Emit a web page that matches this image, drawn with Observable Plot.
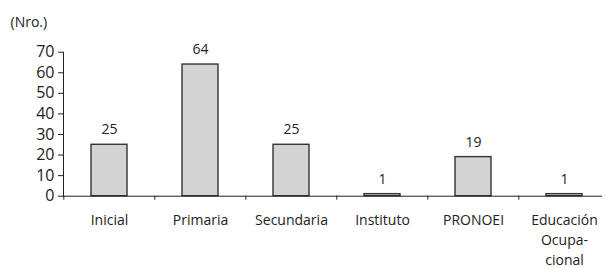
<!DOCTYPE html>
<html>
<head>
<meta charset="utf-8">
<script src="https://cdn.jsdelivr.net/npm/d3@7"></script>
<script src="https://cdn.jsdelivr.net/npm/@observablehq/plot@0.6"></script>
<style>
  html, body { margin: 0; padding: 0; background: #fff; }
</style>
</head>
<body>
<div id="chart"></div>
<script>
const categories = ["Inicial", "Primaria", "Secundaria", "Instituto", "PRONOEI", "Educación\nOcupa-\ncional"];
const values = [25, 64, 25, 1, 19, 1];
const yTicks = [0, 10, 20, 30, 40, 50, 60, 70];
const unitLabel = "(Nro.)";

const data = categories.map((c, i) => ({category: c, value: values[i]}));
const step = (611.4 - 63) / categories.length;

const chart = Plot.plot({
  width: 607,
  height: 268,
  marginLeft: 63,
  marginRight: 5,
  marginTop: 51.7,
  marginBottom: 72.3,
  style: {fontFamily: "'Open Sans', sans-serif", fontSize: "14px", color: "#222", background: "#fff"},
  x: {domain: categories, range: [63, 611.4], paddingInner: 0.6, paddingOuter: 0.3, axis: null},
  y: {domain: [0, 70], axis: null},
  marks: [
    Plot.barY(data, {x: "category", y: "value", fill: "#d3d3d3", stroke: "#333", strokeWidth: 1.4}),
    Plot.text(data, {x: "category", y: "value", text: d => String(d.value), dy: -15, fill: "#222", fontSize: 14}),
    Plot.frame({anchor: "left", stroke: "#222"}),
    Plot.ruleY([0], {stroke: "#222"}),
    Plot.axisY({ticks: yTicks, label: null, tickSize: 5, tickPadding: 4, fontSize: 16, tickFormat: d => String(d), stroke: "#222", fill: "#222"}),
    Plot.axisX({ticks: categories, label: null, tickSize: 4, text: null, dx: -step / 2, stroke: "#222"}),
    Plot.text(categories, {x: d => d, frameAnchor: "bottom", dy: 14, lineAnchor: "top", lineHeight: 1.45, fontSize: 14, fill: "#222"}),
    Plot.text([unitLabel], {frameAnchor: "top-left", dx: -53, dy: -30, textAnchor: "start", lineAnchor: "middle", fontSize: 14, fill: "#222"})
  ]
});
document.getElementById("chart").appendChild(chart);
</script>
</body>
</html>
